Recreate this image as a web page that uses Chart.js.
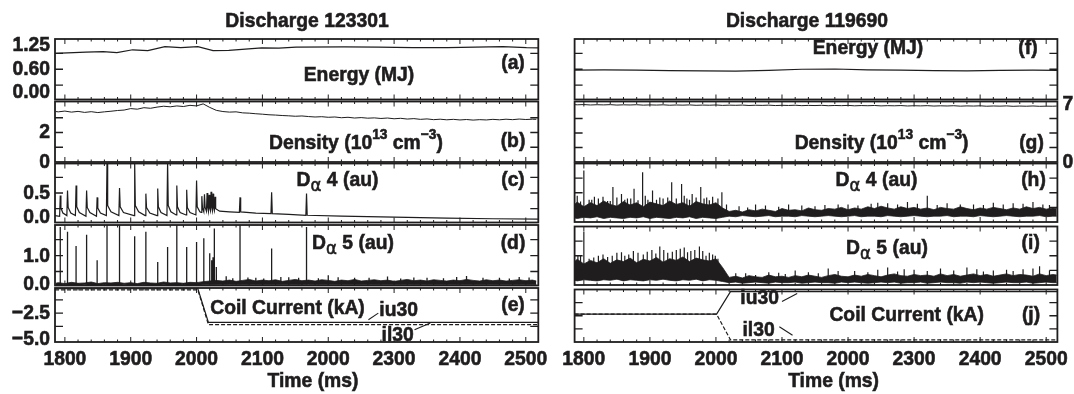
<!DOCTYPE html>
<html>
<head>
<meta charset="utf-8">
<script src="https://cdn.jsdelivr.net/npm/chart.js@4.4.0/dist/chart.umd.min.js"></script>
<style>
  html, body { margin: 0; padding: 0; background: #fff; }
  #fig { position: relative; width: 1074px; height: 394px; overflow: hidden; }
  #fig canvas { position: absolute; left: 0; top: 0; }
</style>
</head>
<body>
<div id="fig"></div>
<script>
// values
const xTickValues = [1800, 1900, 2000, 2100, 2200, 2300, 2400, 2500];
const xTickLabels = ['1800', '1900', '2000', '2100', '2000', '2300', '2400', '2500'];

const tGrid = [1786,1790,1800,1810,1820,1830,1840,1850,1860,1870,1880,1890,1900,1910,1920,1930,1940,1950,1960,1970,1980,1990,2000,2010,2020,2030,2040,2050,2060,2070,2080,2090,2100,2110,2120,2130,2140,2150,2160,2170,2180,2190,2200,2210,2220,2230,2240,2250,2260,2270,2280,2290,2300,2310,2320,2330,2340,2350,2360,2370,2380,2390,2400,2410,2420,2430,2440,2450,2460,2470,2480,2490,2500,2510,2516];

// discharge 123301
const energyT = [1785,1832,1858,1879,1903,1926,1952,1976,2002,2025,2049,2099,2125,2151,2224,2276,2329,2381,2465,2501,2519];
const energyV = [1.20,1.25,1.27,1.23,1.34,1.31,1.46,1.42,1.46,1.31,1.32,1.41,1.40,1.44,1.45,1.44,1.42,1.42,1.46,1.42,1.41];

const densityV = [3.42,3.40,3.45,3.38,3.43,3.36,3.41,3.35,3.40,3.44,3.49,3.52,3.62,3.58,3.68,3.64,3.72,3.78,3.74,3.80,3.76,3.84,3.80,3.94,3.70,3.50,3.42,3.38,3.40,3.33,3.31,3.27,3.24,3.20,3.18,3.15,3.13,3.10,3.12,3.08,3.05,3.07,3.03,3.05,3.00,3.03,2.98,3.01,2.97,2.99,2.95,2.98,2.93,2.96,2.91,2.94,2.89,2.92,2.87,2.90,2.86,2.89,2.85,2.88,2.84,2.87,2.85,2.89,2.86,2.90,2.87,2.91,2.88,2.90,2.89];

const da4Trace = [[1785,0.14],[1792,0.13],[1793,0.46],[1794,0.26],[1797,0.18],[1803,0.14],[1804,0.54],[1805,0.27],[1809,0.18],[1816,0.14],[1817,0.62],[1818,0.28],[1822,0.19],[1832,0.13],[1833,0.54],[1834,0.27],[1838,0.19],[1848,0.13],[1849,0.43],[1850,0.26],[1854,0.18],[1863,0.14],[1864,1.0],[1865,0.3],[1870,0.2],[1882,0.14],[1883,0.58],[1884,0.28],[1889,0.19],[1905,0.14],[1906,1.0],[1907,0.3],[1912,0.2],[1922,0.14],[1923,0.49],[1924,0.27],[1929,0.18],[1940,0.14],[1941,0.57],[1942,0.28],[1946,0.19],[1955,0.14],[1956,1.0],[1957,0.3],[1961,0.2],[1969,0.15],[1970,0.62],[1971,0.28],[1975,0.19],[1984,0.15],[1985,0.55],[1986,0.27],[1990,0.19],[1999,0.15],[2000,0.70],[2001,0.28],[2005,0.2],[2007,0.19],[2008,0.45],[2009,0.26],[2011,0.2],[2012,0.48],[2013,0.27],[2015,0.21],[2016,0.5],[2017,0.27],[2018,0.21],[2019,0.47],[2020,0.26],[2021,0.22],[2022,0.52],[2023,0.27],[2024,0.22],[2025,0.49],[2026,0.26],[2027,0.22],[2028,0.44],[2029,0.25],[2035,0.21],[2050,0.2],[2065,0.19],[2066,0.43],[2067,0.2],[2090,0.18],[2113,0.17],[2114,0.51],[2115,0.17],[2140,0.16],[2166,0.145],[2167,0.49],[2168,0.145],[2220,0.13],[2300,0.115],[2380,0.1],[2450,0.09],[2519,0.085]];

const da5Low = [0.07,0.07,0.08,0.07,0.07,0.08,0.07,0.07,0.08,0.07,0.07,0.08,0.07,0.07,0.08,0.07,0.07,0.08,0.07,0.07,0.08,0.07,0.07,0.08,0.08,0.08,0.08,0.09,0.08,0.08,0.09,0.08,0.08,0.09,0.08,0.08,0.09,0.08,0.08,0.09,0.08,0.08,0.09,0.08,0.08,0.09,0.08,0.08,0.09,0.08,0.08,0.09,0.08,0.08,0.09,0.08,0.08,0.09,0.08,0.08,0.09,0.08,0.08,0.09,0.08,0.08,0.09,0.08,0.08,0.09,0.08,0.08,0.09,0.08,0.08];
const da5High = [0.13,0.15,0.12,0.16,0.13,0.14,0.17,0.12,0.15,0.14,0.16,0.13,0.15,0.12,0.16,0.14,0.13,0.17,0.14,0.15,0.13,0.16,0.15,0.18,0.2,0.22,0.2,0.23,0.19,0.22,0.25,0.2,0.23,0.21,0.24,0.19,0.22,0.25,0.21,0.23,0.2,0.24,0.22,0.19,0.23,0.21,0.25,0.2,0.22,0.24,0.21,0.23,0.19,0.22,0.25,0.21,0.23,0.2,0.24,0.22,0.2,0.23,0.21,0.25,0.22,0.2,0.24,0.21,0.23,0.2,0.22,0.24,0.21,0.23,0.2];
const da5SpikeT = [1793,1804,1817,1833,1849,1864,1883,1906,1923,1941,1956,1970,1985,2000,2011,2020,2023,2025,2027,2030,2045,2066,2090,2114,2140,2167,2200,2240,2290,2350,2410,2460,2490,2055,2078,2102,2128,2155,2185,2215,2262,2310,2330,2375,2395,2435,2475,2505];
const da5SpikeV = [1.9,1.75,1.3,1.65,0.85,1.96,1.96,1.61,1.75,0.8,1.27,1.96,1.27,1.43,1.54,1.07,0.85,0.95,1.85,0.64,0.35,1.96,0.3,1.22,0.32,1.9,0.38,0.3,0.34,0.3,0.36,0.3,0.33,0.29,0.31,0.28,0.33,0.3,0.29,0.32,0.3,0.28,0.31,0.29,0.33,0.3,0.28,0.31];

const coilT = [1785, 2002, 2018, 2519];
const iu30 = [-0.2, -0.2, -3.37, -3.37];
const il30 = [-0.3, -0.3, -3.59, -3.59];

// discharge 119690
const energy2T = [1786,1830,1880,1930,1980,2030,2080,2130,2180,2230,2280,2330,2380,2430,2480,2517];
const energy2V = [0.57,0.58,0.57,0.55,0.54,0.53,0.56,0.60,0.61,0.58,0.57,0.55,0.54,0.56,0.57,0.56];

const density2V = [6.92,6.9,6.93,6.88,6.91,6.89,6.92,6.87,6.9,6.88,6.91,6.86,6.89,6.87,6.9,6.85,6.88,6.86,6.89,6.84,6.87,6.85,6.88,6.83,6.86,6.84,6.87,6.82,6.85,6.83,6.86,6.81,6.84,6.82,6.85,6.8,6.83,6.81,6.84,6.79,6.82,6.8,6.83,6.78,6.81,6.79,6.82,6.77,6.8,6.78,6.81,6.76,6.79,6.77,6.8,6.75,6.78,6.76,6.79,6.74,6.77,6.75,6.78,6.73,6.76,6.74,6.77,6.72,6.75,6.73,6.76,6.72,6.74,6.73,6.75];

const da4bLow = [0.07,0.06,0.08,0.07,0.09,0.06,0.08,0.07,0.06,0.08,0.07,0.09,0.06,0.08,0.07,0.06,0.08,0.07,0.09,0.06,0.08,0.07,0.06,0.08,0.1,0.09,0.11,0.1,0.09,0.1,0.11,0.09,0.1,0.1,0.09,0.11,0.1,0.09,0.1,0.11,0.1,0.09,0.1,0.11,0.09,0.1,0.1,0.09,0.11,0.1,0.09,0.1,0.11,0.1,0.09,0.1,0.1,0.11,0.09,0.1,0.1,0.09,0.11,0.1,0.09,0.1,0.11,0.1,0.09,0.1,0.1,0.11,0.09,0.1,0.1];
const da4bHigh = [0.30,0.34,0.26,0.33,0.28,0.36,0.30,0.27,0.35,0.29,0.33,0.26,0.34,0.31,0.28,0.36,0.30,0.33,0.27,0.35,0.31,0.29,0.33,0.24,0.18,0.2,0.17,0.21,0.19,0.22,0.2,0.18,0.23,0.2,0.21,0.19,0.24,0.21,0.2,0.23,0.22,0.25,0.21,0.24,0.22,0.26,0.23,0.27,0.24,0.22,0.26,0.23,0.25,0.22,0.24,0.21,0.25,0.23,0.22,0.26,0.23,0.21,0.24,0.22,0.25,0.23,0.21,0.24,0.22,0.26,0.23,0.25,0.22,0.24,0.23];
const da4bSpikeT = [1790,1800,1808,1816,1829,1836,1844,1857,1866,1876,1889,1897,1904,1920,1927,1933,1948,1956,1964,1977,1986,1995,2009,2016,2060,2130,2200,2260,2320,2390,2450,2495,
  1795,1812,1822,1840,1850,1862,1871,1882,1893,1910,1915,1940,1952,1960,1970,1982,1990,2003,
  2035,2048,2075,2095,2110,2150,2165,2185,2215,2235,2245,2275,2290,2305,2335,2350,2370,2405,2420,2435,2465,2480,2505];
const da4bSpikeV = [0.45,0.88,0.38,0.43,0.43,0.36,0.6,0.48,0.4,0.57,0.85,0.38,0.54,0.4,0.42,0.68,0.65,0.4,0.48,0.6,0.42,0.43,0.51,0.3,0.3,0.28,0.3,0.32,0.45,0.3,0.32,0.3,
  0.35,0.38,0.4,0.36,0.42,0.38,0.4,0.37,0.45,0.38,0.42,0.4,0.45,0.38,0.42,0.4,0.37,0.4,
  0.27,0.25,0.28,0.26,0.3,0.27,0.29,0.3,0.28,0.31,0.33,0.3,0.34,0.31,0.29,0.32,0.3,0.29,0.33,0.3,0.31,0.34,0.29];

const da5bLow = [0.08,0.07,0.09,0.08,0.07,0.09,0.08,0.1,0.07,0.09,0.08,0.07,0.09,0.08,0.1,0.08,0.07,0.09,0.08,0.1,0.07,0.09,0.08,0.06,0.04,0.05,0.03,0.04,0.05,0.04,0.03,0.05,0.04,0.04,0.05,0.03,0.04,0.05,0.04,0.04,0.03,0.05,0.04,0.05,0.04,0.03,0.04,0.05,0.04,0.05,0.03,0.04,0.04,0.05,0.03,0.04,0.05,0.04,0.04,0.03,0.05,0.04,0.05,0.04,0.03,0.04,0.05,0.04,0.04,0.05,0.03,0.04,0.05,0.04,0.04];
const da5bHigh = [0.40,0.44,0.36,0.42,0.38,0.45,0.37,0.43,0.40,0.46,0.38,0.44,0.41,0.47,0.39,0.45,0.42,0.48,0.40,0.46,0.43,0.41,0.45,0.3,0.13,0.15,0.12,0.16,0.14,0.13,0.17,0.14,0.15,0.13,0.16,0.14,0.17,0.15,0.13,0.16,0.18,0.15,0.14,0.17,0.15,0.18,0.16,0.14,0.17,0.19,0.16,0.15,0.18,0.16,0.17,0.15,0.19,0.16,0.18,0.15,0.17,0.19,0.16,0.18,0.15,0.17,0.19,0.16,0.18,0.17,0.15,0.19,0.16,0.18,0.17];
const da5bSpikeT = [1791,1800,1808,1822,1836,1850,1862,1875,1890,1903,1915,1927,1940,1952,1962,1975,1985,1995,2003,2030,2080,2120,2170,2210,2260,2300,2340,2380,2420,2465,2490,
  1795,1815,1829,1843,1857,1868,1882,1896,1909,1921,1934,1946,1957,1968,1980,1990,1999,
  2015,2045,2060,2095,2105,2140,2155,2185,2230,2245,2275,2285,2320,2360,2395,2405,2440,2450,2480,2505];
const da5bSpikeV = [0.5,0.91,0.45,0.5,0.48,0.55,0.5,0.58,0.52,0.6,0.66,0.55,0.6,0.64,0.58,0.66,0.5,0.52,0.45,0.2,0.22,0.25,0.28,0.24,0.3,0.26,0.28,0.3,0.25,0.27,0.32,
  0.5,0.47,0.52,0.5,0.56,0.52,0.55,0.57,0.54,0.6,0.57,0.62,0.56,0.6,0.58,0.55,0.5,
  0.18,0.2,0.17,0.21,0.19,0.22,0.2,0.24,0.22,0.26,0.23,0.27,0.24,0.25,0.27,0.23,0.26,0.24,0.28,0.25];

const coil2T = [1786, 2001, 2022, 2517];
const iu30b = [0.3, 0.3, 4.6, 4.6];
const il30b = [0.3, 0.3, -4.6, -4.6];

// ---- drawing ----
const INK = '#1f1d1d';
const SQUEEZE = 0.92;
const FAM = "'Liberation Sans', Arial, Helvetica, sans-serif";
const fig = document.getElementById('fig');

function pts(ts, vs) { return ts.map((t, i) => ({x: t, y: vs[i]})); }
function pairs(arr) { return arr.map(p => ({x: p[0], y: p[1]})); }
function spikes(ts, vs, base) {
  const out = [];
  ts.forEach((t, i) => {
    out.push({x: t, y: base}, {x: t, y: vs[i]}, {x: t, y: base}, {x: t, y: null});
  });
  return out;
}
function line(data, extra) {
  return Object.assign({data, borderColor: INK, borderWidth: 1, pointRadius: 0,
    tension: 0, fill: false, spanGaps: false}, extra || {});
}
function band(low, high) {
  return [
    line(pts(tGrid, low), {borderWidth: 0.8}),
    line(pts(tGrid, high), {borderWidth: 0.8, fill: '-1', backgroundColor: INK})
  ];
}

function fontOf(size, weight, fam) { return (weight || 'bold') + ' ' + size + 'px ' + (fam || FAM); }

// parts: [text, size, dy, weight, family]
function drawParts(ctx, parts, x, y, align) {
  ctx.save();
  ctx.translate(x, y);
  ctx.scale(SQUEEZE, 1);
  ctx.fillStyle = INK;
  ctx.strokeStyle = INK;
  ctx.lineWidth = 0.6;
  ctx.textBaseline = 'middle';
  ctx.textAlign = 'left';
  let w = 0;
  parts.forEach(p => { ctx.font = fontOf(p[1] || 21, p[3], p[4]); w += ctx.measureText(p[0]).width; });
  let cx = align === 'right' ? -w : align === 'left' ? 0 : -w / 2;
  parts.forEach(p => {
    ctx.font = fontOf(p[1] || 21, p[3], p[4]);
    ctx.fillText(p[0], cx, p[2] || 0);
    ctx.strokeText(p[0], cx, p[2] || 0);
    cx += ctx.measureText(p[0]).width;
  });
  ctx.restore();
}

const DENSITY = [['Density (10'], ['13', 15, -8], [' cm'], ['\u22123', 15, -8], [')']];
function dAlpha(n) { return [['D'], ['\u03b1', 18, 6, 'normal', "'DejaVu Sans', sans-serif"], [' ' + n + ' (au)']]; }

function makeDeco(p) {
  return {
    id: 'deco',
    afterDraw(chart) {
      const {ctx, chartArea: a} = chart;
      const xs = chart.scales.x, ys = chart.scales.y;
      ctx.save();
      ctx.strokeStyle = INK;
      // y tick marks, inward on both sides
      ctx.lineWidth = 1.3;
      ctx.beginPath();
      p.yMarks.forEach(v => {
        const py = ys.getPixelForValue(v);
        ctx.moveTo(a.left, py); ctx.lineTo(a.left + 8, py);
        ctx.moveTo(a.right, py); ctx.lineTo(a.right - 8, py);
      });
      ctx.stroke();
      // x tick marks on top and bottom edges
      ctx.lineWidth = 1;
      ctx.beginPath();
      for (let t = 1800; t <= 2500; t += 20) {
        const px = xs.getPixelForValue(t);
        const len = t % 100 === 0 ? 5 : 2.5;
        ctx.moveTo(px, a.top); ctx.lineTo(px, a.top + len);
        ctx.moveTo(px, a.bottom); ctx.lineTo(px, a.bottom - len);
      }
      ctx.stroke();
      // frame
      ctx.lineWidth = 1.8;
      ctx.strokeRect(a.left, a.top, a.right - a.left, a.bottom - a.top);
      // leader lines for trace names
      ctx.lineWidth = 1.1;
      (p.leaders || []).forEach(l => {
        ctx.beginPath();
        ctx.moveTo(xs.getPixelForValue(l[0][0]), ys.getPixelForValue(l[0][1]));
        ctx.lineTo(xs.getPixelForValue(l[1][0]), ys.getPixelForValue(l[1][1]));
        ctx.stroke();
      });
      ctx.restore();
      // y labels
      (p.yLabels || []).forEach(l => {
        const py = ys.getPixelForValue(l[0]);
        if (p.labelSide === 'right') drawParts(ctx, [[l[1]]], a.right + 5, py, 'left');
        else drawParts(ctx, [[l[1]]], a.left - 5, py, 'right');
      });
      // x labels
      if (p.xLabels) {
        xTickValues.forEach((v, i) => drawParts(ctx, [[xTickLabels[i]]], xs.getPixelForValue(v), 359, 'center'));
        drawParts(ctx, [['Time (ms)']], p.timeX, 381.7, 'center');
      }
      (p.texts || []).forEach(t => drawParts(ctx, t[0], t[1], t[2], 'center'));
    }
  };
}

function makePanel(p) {
  const cv = document.createElement('canvas');
  cv.width = 1074; cv.height = 394;
  fig.appendChild(cv);
  new Chart(cv, {
    type: 'line',
    data: {datasets: p.datasets},
    options: {
      responsive: false, animation: false, devicePixelRatio: 1, events: [],
      layout: {padding: {left: p.box[0], top: p.box[1], right: 1074 - p.box[2], bottom: 394 - p.box[3]}},
      scales: {
        x: {type: 'linear', min: p.xRange[0], max: p.xRange[1], display: false},
        y: {type: 'linear', min: p.yRange[0], max: p.yRange[1], display: false}
      },
      plugins: {legend: {display: false}, tooltip: {enabled: false}}
    },
    plugins: [makeDeco(p)]
  });
}

const XL = [1785, 2519], XR = [1786, 2517];
const L0 = 55, L1 = 538.3, R0 = 574.6, R1 = 1057.4;

const panels = [
  // left column, discharge 123301
  {box: [L0, 39, L1, 99.5], xRange: XL, yRange: [-0.55, 1.75], yMarks: [0, 0.6, 1.2],
   yLabels: [[1.5, '1.25'], [0.6, '0.60'], [-0.26, '0.00']],
   datasets: [line(pts(energyT, energyV), {borderWidth: 1.2})],
   texts: [[[['Discharge 123301']], 307, 21.7], [[['Energy (MJ)']], 359, 75], [[['(a)']], 513, 63.3]]},
  {box: [L0, 101.5, L1, 162], xRange: XL, yRange: [0, 4.1], yMarks: [1, 2, 3],
   yLabels: [[2, '2'], [0, '0']],
   datasets: [line(pts(tGrid, densityV))],
   texts: [[DENSITY, 356, 143.3], [[['(b)']], 513, 141.7]]},
  {box: [L0, 163.5, L1, 222.5], xRange: XL, yRange: [0.03, 0.97], yMarks: [0.25, 0.5, 0.75],
   yLabels: [[0.5, '0.5'], [0.12, '0.0']],
   datasets: [line(pairs(da4Trace), {borderWidth: 1.2})],
   texts: [[dAlpha(4), 337.5, 180], [[['(c)']], 513, 180]]},
  {box: [L0, 225, L1, 285.5], xRange: XL, yRange: [0.06, 1.96], yMarks: [0.5, 1, 1.5],
   yLabels: [[0.97, '1.0'], [0.11, '0.0']],
   datasets: [...band(da5Low, da5High), line(spikes(da5SpikeT, da5SpikeV, 0.1), {borderWidth: 1.3})],
   texts: [[dAlpha(5), 353, 243.3], [[['(d)']], 513, 243.3]]},
  {box: [L0, 288, L1, 342], xRange: XL, yRange: [-5.22, -0.13], yMarks: [-1.25, -2.5, -3.75],
   yLabels: [[-2.5, '\u22122.5'], [-5.0, '\u22125.0']],
   datasets: [line(pts(coilT, iu30), {borderWidth: 1.2}), line(pts(coilT, il30), {borderWidth: 1.2, borderDash: [4, 2]})],
   leaders: [[[2261, -3.12], [2276, -2.5]], [[2331, -4.06], [2355, -3.43]]],
   xLabels: true, timeX: 313,
   texts: [[[['Coil Current (kA)']], 287.5, 308.3], [[['iu30']], 398.6, 310], [[['il30']], 397.7, 335], [[['(e)']], 513, 305]]},
  // right column, discharge 119690
  {box: [R0, 39, R1, 99.5], xRange: XR, yRange: [-0.55, 1.75], yMarks: [0, 0.6, 1.2],
   datasets: [line(pts(energy2T, energy2V), {borderWidth: 1.2})],
   texts: [[[['Discharge 119690']], 807, 21.7], [[['Energy (MJ)']], 868, 48.3], [[['(f)']], 1028, 48.3]]},
  {box: [R0, 101.5, R1, 162], xRange: XR, yRange: [0, 7.3], yMarks: [1.75, 3.5, 5.25],
   yLabels: [[7, '7'], [0, '0']], labelSide: 'right',
   datasets: [line(pts(tGrid, density2V))],
   texts: [[DENSITY, 881.6, 143.3], [[['(g)']], 1031.5, 143.3]]},
  {box: [R0, 163.5, R1, 222], xRange: XR, yRange: [0, 1], yMarks: [0.25, 0.5, 0.75],
   datasets: [...band(da4bLow, da4bHigh), line(spikes(da4bSpikeT, da4bSpikeV, 0.15), {borderWidth: 1.2})],
   texts: [[dAlpha(4), 876.5, 180], [[['(h)']], 1033.5, 180]]},
  {box: [R0, 226.5, R1, 285], xRange: XR, yRange: [0, 1], yMarks: [0.25, 0.5, 0.75],
   datasets: [...band(da5bLow, da5bHigh), line(spikes(da5bSpikeT, da5bSpikeV, 0.1), {borderWidth: 1.2})],
   texts: [[dAlpha(5), 887, 248.3], [[['(i)']], 1030.7, 243.3]]},
  {box: [R0, 289.5, R1, 342], xRange: XR, yRange: [-5, 5], yMarks: [-2.5, 0, 2.5],
   datasets: [line(pts(coil2T, iu30b), {borderWidth: 1.2}), line(pts(coil2T, il30b), {borderWidth: 1.2, borderDash: [4, 2]})],
   leaders: [[[2100, 2.73], [2123, 4.22]], [[2096, -2.11], [2116, -3.71]]],
   xLabels: true, timeX: 833.6,
   texts: [[[['iu30']], 759.6, 298.3], [[['il30']], 758.6, 330], [[['Coil Current (kA)']], 906.7, 315], [[['(j)']], 1031, 315]]}
];

panels.forEach(makePanel);
</script>
</body>
</html>
